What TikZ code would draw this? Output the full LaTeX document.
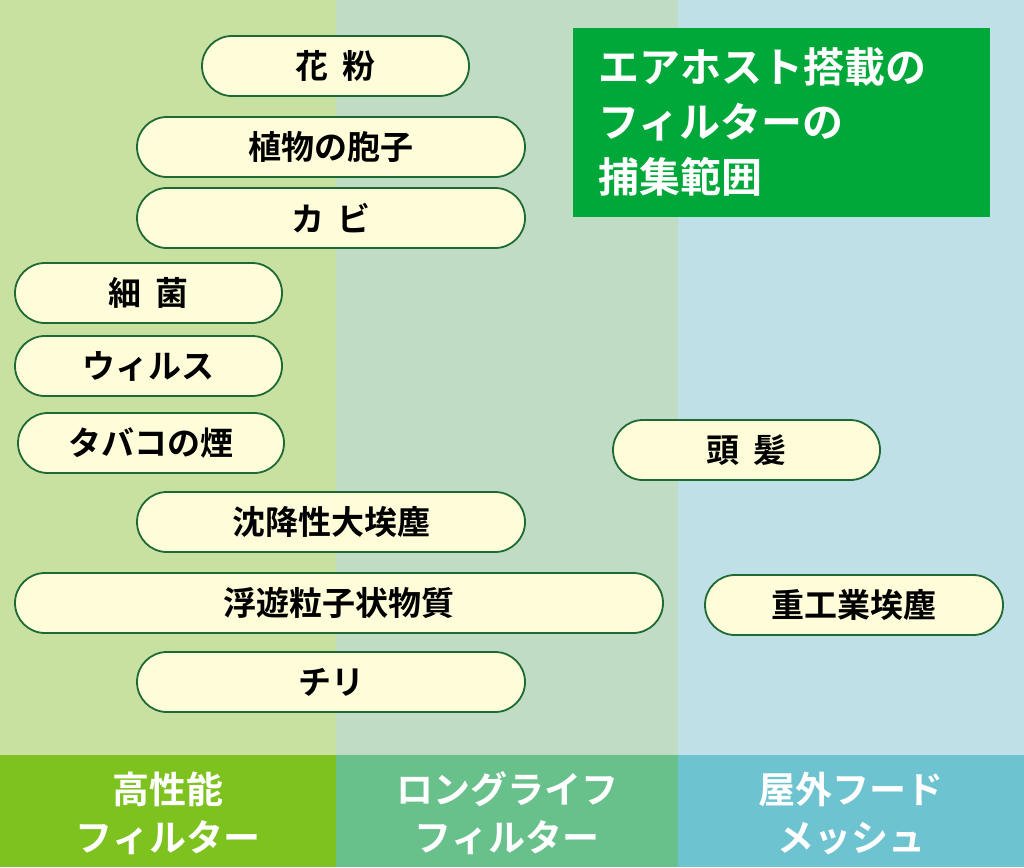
\documentclass[tikz,border=0pt]{standalone}
\usepackage{fontspec}
\setmainfont{Noto Sans CJK JP}[BoldFont={Noto Sans CJK JP Bold}]
\begin{document}
\begin{tikzpicture}[x=1pt,y=-1pt,
 pill/.style={draw=bd,line width=1.8pt,fill=yellow!15,rounded corners=30pt,minimum height=60pt,inner sep=0pt,font=\bfseries\fontsize{33}{36}\selectfont},
 foot/.style={text=white,font=\bfseries\fontsize{37}{48}\selectfont,align=center}]
\definecolor{bd}{HTML}{1E6A35}
\definecolor{c1}{HTML}{C8E0A0}\definecolor{c2}{HTML}{C0DCC4}\definecolor{c3}{HTML}{C0E0E8}
\definecolor{f1}{HTML}{7EC21F}\definecolor{f2}{HTML}{68C08A}\definecolor{f3}{HTML}{6EC3D0}
\definecolor{tg}{HTML}{00A83A}
\useasboundingbox (0,0) rectangle (1024,867);
\fill[c1] (0,0) rectangle (336,755);
\fill[c2] (336,0) rectangle (678,755);
\fill[c3] (678,0) rectangle (1024,755);
\fill[f1] (0,755) rectangle (336,867);
\fill[f2] (336,755) rectangle (678,867);
\fill[f3] (678,755) rectangle (1024,867);
\node[foot] (b1) at (168,813) {高性能\\フィルター};
\node[foot] (b2) at (507,813) {ロングライフ\\フィルター};
\node[foot] (b3) at (851,813) {屋外フード\\メッシュ};
\fill[tg] (573,28) rectangle (990,217);
\node[text=white,font=\bfseries\fontsize{41}{55}\selectfont,align=left,anchor=north west] (t) at (595,44) {エアホスト搭載の\\フィルターの\\捕集範囲};
\node[pill,minimum width=267pt] (p1) at (335.5,66) {花\hspace{0.4em}粉};
\node[pill,minimum width=388pt] (p2) at (331,147) {植物の胞子};
\node[pill,minimum width=388pt] (p3) at (331,218) {カ\hspace{0.4em}ビ};
\node[pill,minimum width=267pt] (p4) at (148.5,293) {細\hspace{0.4em}菌};
\node[pill,minimum width=267pt] (p5) at (148.5,366) {ウィルス};
\node[pill,minimum width=266pt] (p6) at (151,443) {タバコの煙};
\node[pill,minimum width=267pt] (p7) at (746.5,450) {頭\hspace{0.4em}髪};
\node[pill,minimum width=388pt] (p8) at (331,522) {沈降性大埃塵};
\node[pill,minimum width=648pt] (p9) at (339,603) {浮遊粒子状物質};
\node[pill,minimum width=298pt] (p10) at (854,605) {重工業埃塵};
\node[pill,minimum width=388pt] (p11) at (331,682) {チリ};
\end{tikzpicture}
\end{document}
